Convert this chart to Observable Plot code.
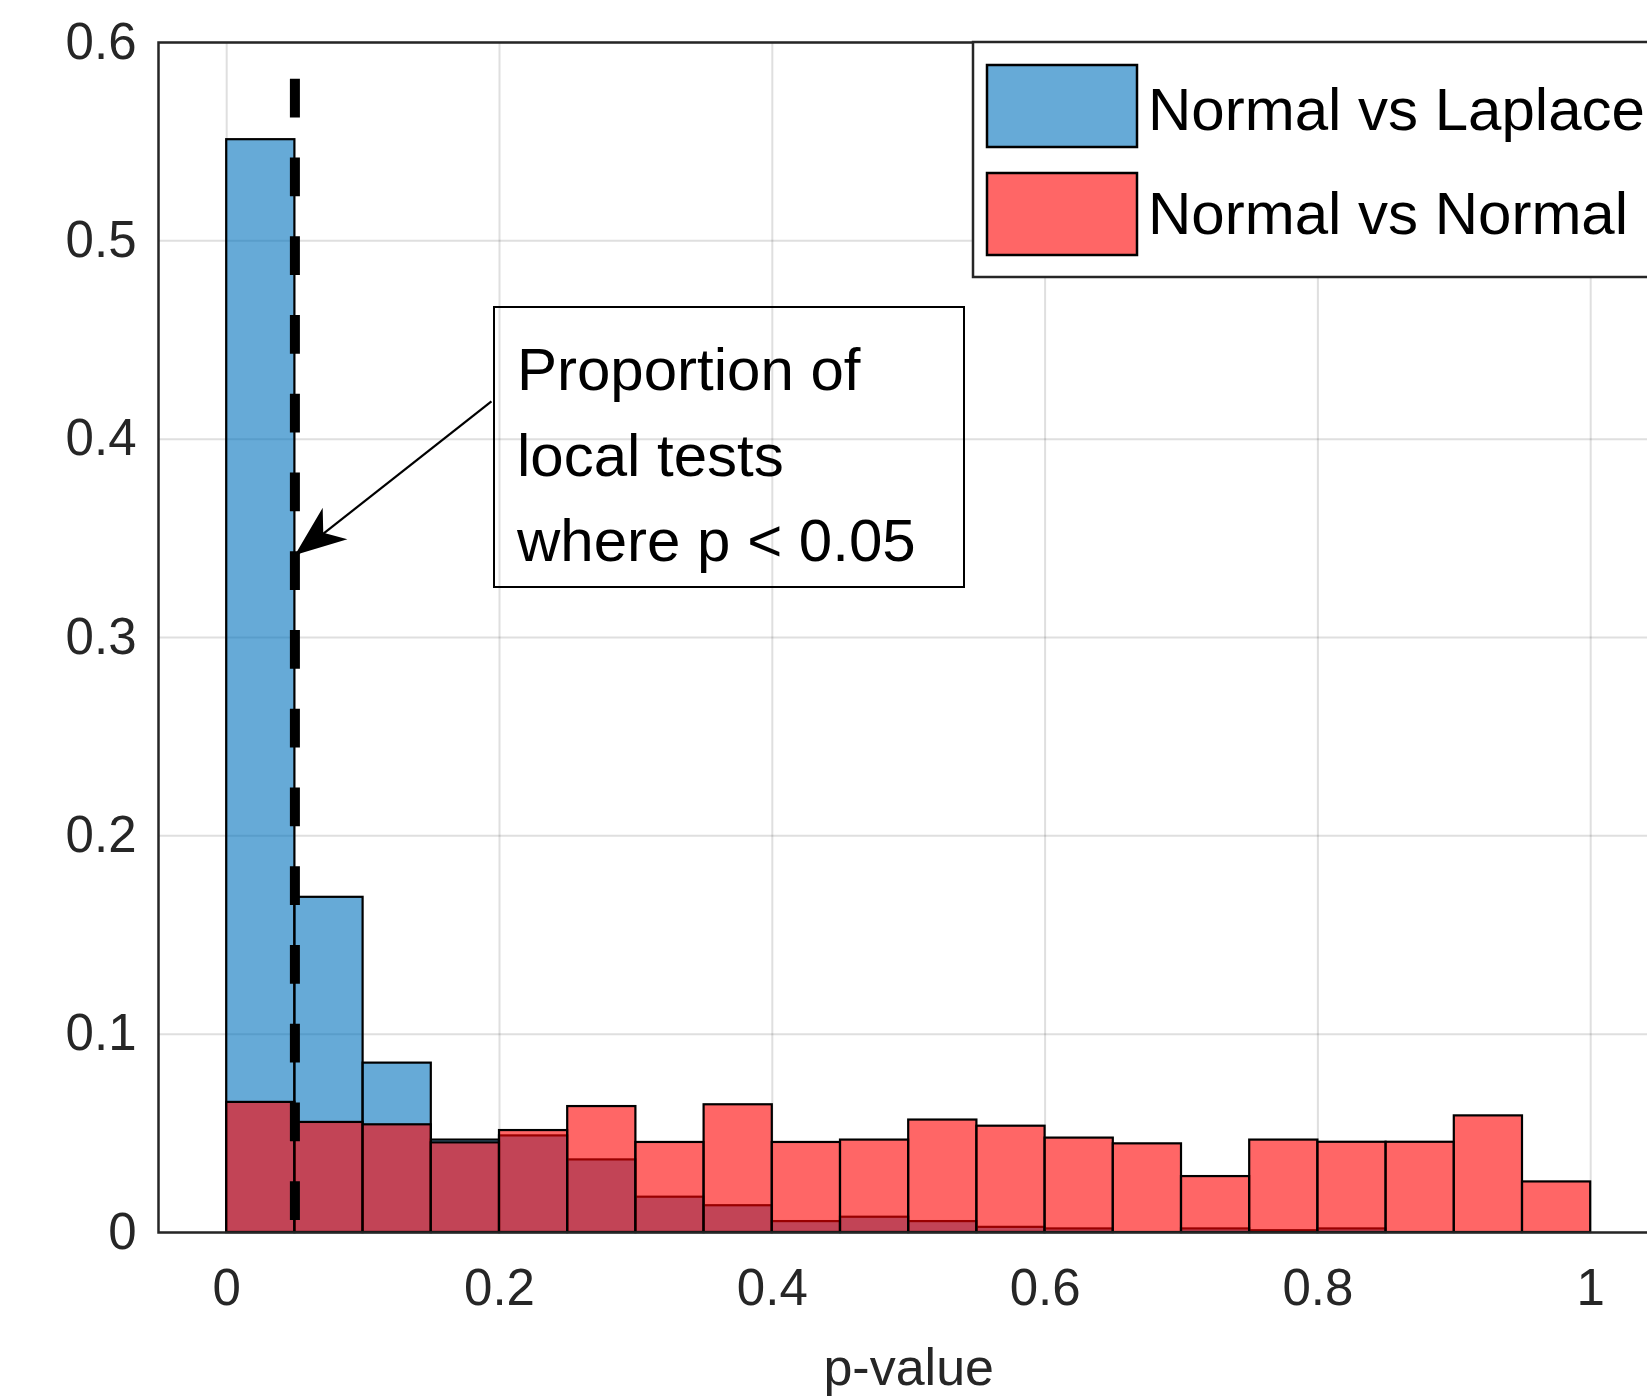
<!DOCTYPE html>
<html><head><meta charset="utf-8">
<script src="https://cdn.jsdelivr.net/npm/d3@7"></script>
<script src="https://cdn.jsdelivr.net/npm/@observablehq/plot@0.6"></script>
<style>
html,body{margin:0;padding:0;background:#fff;overflow:hidden;}
#wrap{position:relative;width:1647px;height:1397px;overflow:hidden;}
#wrap svg{position:absolute;left:0;top:0;}
</style></head><body><div id="wrap"></div>
<script>
// ---- data ----
const binStarts = [0,0.05,0.1,0.15,0.2,0.25,0.3,0.35,0.4,0.45,0.5,0.55,0.6,0.65,0.7,0.75,0.8,0.85,0.9,0.95];
const binWidth = 0.05;
const laplaceValues = [0.551,0.169,0.0854,0.0466,0.0487,0.0366,0.0178,0.0135,0.0055,0.0077,0.0055,0.0026,0.0018,0,0.0018,0.0009,0.0018,0,0,0];
const normalValues  = [0.0656,0.0555,0.0543,0.0452,0.0514,0.0635,0.0454,0.0644,0.0454,0.0466,0.0567,0.0536,0.0476,0.0447,0.0282,0.0466,0.0455,0.0455,0.0588,0.0255];
const seriesNames = ["Normal vs Laplace", "Normal vs Normal"];
const seriesColors = ["rgb(0,114,189)", "rgb(255,0,0)"];
const xTicks = [0,0.2,0.4,0.6,0.8,1];
const yTicks = [0,0.1,0.2,0.3,0.4,0.5,0.6];
const threshold = 0.05;
const thresholdTop = 0.5815;
const xLabel = "p-value";
const annotationLines = ["Proportion of", "local tests", "where p < 0.05"];
const arrowFrom = [0.1941, 0.419];
const arrowTo = [0.0504, 0.3413];

const toBins = vals => binStarts.map((s, i) => ({x1: s, x2: s + binWidth, y: vals[i]}));
const laplaceBins = toBins(laplaceValues);
const normalBins = toBins(normalValues);

const FONT = "'Liberation Sans', Arial, Helvetica, sans-serif";
const W = 1647, H = 1397;
const fmt = d => `${d}`;

const plot = Plot.plot({
  width: W, height: H,
  marginLeft: 158, marginRight: -11.4, marginTop: 42, marginBottom: 165,
  style: {fontFamily: FONT, fontSize: "51px", color: "#262626", background: "white", overflow: "hidden"},
  x: {domain: [-0.05, 1.05]},
  y: {domain: [0, 0.6]},
  marks: [
    Plot.gridX(xTicks, {stroke: "#262626", strokeOpacity: 0.15, strokeWidth: 2}),
    Plot.gridY(yTicks, {stroke: "#262626", strokeOpacity: 0.15, strokeWidth: 2}),
    Plot.rectY(laplaceBins, {x1: "x1", x2: "x2", y: "y", fill: seriesColors[0], fillOpacity: 0.6, stroke: "black", strokeWidth: 2.2}),
    Plot.rectY(normalBins, {x1: "x1", x2: "x2", y: "y", fill: seriesColors[1], fillOpacity: 0.6, stroke: "black", strokeWidth: 2.2}),
    Plot.ruleX([threshold], {x: d => d, y1: () => thresholdTop, y2: () => 0, stroke: "black", strokeWidth: 10, strokeDasharray: "38.75,40", strokeLinecap: "butt"}),
    Plot.frame({stroke: "#262626", strokeWidth: 2.5}),
    Plot.axisX(xTicks, {tickSize: 0, tickPadding: 36, label: null, fontSize: 51, tickFormat: fmt}),
    Plot.axisY(yTicks, {tickSize: 0, tickPadding: 22, label: null, fontSize: 51, tickFormat: fmt}),
    Plot.text([xLabel], {x: () => 0.5, frameAnchor: "bottom", dy: 152, lineAnchor: "bottom", fontSize: 52, fill: "#262626", text: d => d}),
    Plot.link([{a: arrowFrom, b: arrowTo}], {x1: d => d.a[0], y1: d => d.a[1], x2: d => d.b[0], y2: d => d.b[1], stroke: "black", strokeWidth: 2.2})
  ]
});

// filled arrow head (MATLAB "vback2" style), positioned via the plot's scales
const sx = plot.scale("x"), sy = plot.scale("y");
const S = [sx.apply(arrowFrom[0]), sy.apply(arrowFrom[1])];
const T = [sx.apply(arrowTo[0]), sy.apply(arrowTo[1])];
const len = Math.hypot(T[0]-S[0], T[1]-S[1]);
const u = [(T[0]-S[0])/len, (T[1]-S[1])/len];
const n = [-u[1], u[0]];
const pt = (back, side) => [T[0] - back*u[0] + side*n[0], T[1] - back*u[1] + side*n[1]];
const B1 = pt(51, 20), N = pt(36, 0), B2 = pt(51, -20);
d3.select(plot).append("path")
  .attr("d", `M${T}L${B1}L${N}L${B2}Z`)
  .attr("fill", "black");

document.getElementById("wrap").appendChild(plot);

// overlay: legend and annotation box
const ns = "http://www.w3.org/2000/svg";
const ov = d3.select("#wrap").append("svg")
  .attr("xmlns", ns).attr("width", W).attr("height", H)
  .style("pointer-events", "none")
  .style("font-family", FONT);

// annotation box (transparent)
ov.append("rect").attr("x", 494).attr("y", 307).attr("width", 470).attr("height", 280)
  .attr("fill", "none").attr("stroke", "black").attr("stroke-width", 2);
annotationLines.forEach((t, i) => {
  ov.append("text").attr("x", 517).attr("y", 390 + i * 85.5)
    .attr("font-size", 60).attr("fill", "black").text(t);
});

// legend
ov.append("rect").attr("x", 973).attr("y", 42).attr("width", 700).attr("height", 235)
  .attr("fill", "white").attr("stroke", "#262626").attr("stroke-width", 2.5);
const legendFills = ["#66aad7", "#ff6666"];
seriesNames.forEach((name, i) => {
  const top = i === 0 ? 65 : 173;
  ov.append("rect").attr("x", 987).attr("y", top).attr("width", 150).attr("height", 82)
    .attr("fill", legendFills[i]).attr("stroke", "black").attr("stroke-width", 2.5);
  ov.append("text").attr("x", 1148).attr("y", i === 0 ? 130 : 234)
    .attr("font-size", 60).attr("fill", "black").text(name);
});
</script>
</body></html>
